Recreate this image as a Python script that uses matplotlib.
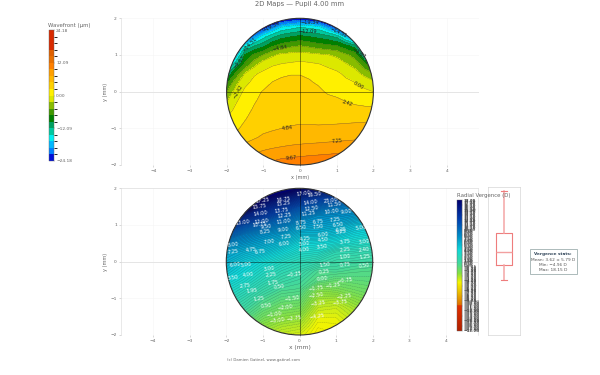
import numpy as np
import matplotlib
matplotlib.use("Agg")
import matplotlib.pyplot as plt
from matplotlib.colors import ListedColormap, BoundaryNorm, LinearSegmentedColormap, Normalize
from matplotlib.patches import Circle, Rectangle
from matplotlib.colorbar import ColorbarBase

W, H = 600, 375
wave_x = [-2, -1.75, -1.5, -1.25, -1, -0.75, -0.5, -0.25, 0, 0.25, 0.5, 0.75, 1, 1.25, 1.5, 1.75, 2]
verg_x = [-2, -1.5, -1, -0.5, 0, 0.5, 1, 1.5, 2]
grid_y = [2, 1.75, 1.5, 1.25, 1, 0.75, 0.5, 0.25, 0, -0.25, -0.5, -0.75, -1, -1.25, -1.5, -1.75, -2]

# columns by x, rows by y
wave_m200 = [-70, -60, -50, -40, -30, -20, -13, -8, -5, -2.6, -1, 0.2, 1, 2, 3.5, 5.5, 8]
wave_m175 = [-56, -46, -37, -27, -19, -13, -7, -3.2, -1.4, -0.3, 0.5, 1.3, 2, 3, 4.4, 6.2, 8.5]
wave_m150 = [-45, -35, -27, -15.3, -9.5, -6.9, -2.42, -0.6, 0.5, 1.1, 1.7, 2.3, 3, 3.9, 5.4, 7, 9]
wave_m125 = [-38, -29, -20, -12.4, -6.8, -3.5, -0.3, 0.6, 1.7, 2.2, 2.7, 3.2, 3.8, 4.6, 6, 7.6, 9.5]
wave_m100 = [-32, -24, -15.5, -10.4, -4.84, -1, 0.4, 1.5, 2.6, 3, 3.4, 3.8, 4.3, 5.2, 6.6, 8.2, 10]
wave_m075 = [-28.5, -20, -12.7, -7.7, -2.9, -0.4, 1.5, 2.5, 2.85, 3.2, 3.6, 4, 4.55, 5.6, 6.95, 8.65, 10.5]
wave_m050 = [-26, -16.6, -10.7, -6.1, -1.7, 0.1, 2.1, 2.8, 3, 3.4, 3.8, 4.3, 4.84, 6, 7.25, 9.1, 11]
wave_m025 = [-24.5, -15.5, -9.8, -5.4, -1.5, 0.35, 2.3, 2.9, 3.1, 3.5, 3.9, 4.4, 5, 6.2, 7.45, 9.3, 11.2]
wave_p000 = [-24, -14.5, -9.1, -4.84, -1.3, 0.6, 2.3, 2.9, 3.15, 3.6, 4, 4.5, 5.1, 6.3, 7.6, 9.5, 11.5]
wave_p025 = [-24.5, -15, -9.7, -5.4, -1.6, 0.4, 2.1, 2.6, 3, 3.4, 3.8, 4.35, 5.2, 6.35, 7.75, 9.7, 11.6]
wave_p050 = [-26, -15.8, -10.4, -6.2, -1.9, 0.1, 1.1, 2.2, 2.8, 3.2, 3.6, 4.2, 5.2, 6.4, 7.85, 9.85, 11.7]
wave_p075 = [-32, -19, -11.3, -6.6, -2.3, -0.4, 0.75, 1.55, 2.2, 2.95, 3.4, 4.25, 5.25, 6.5, 8, 10, 11.85]
wave_p100 = [-40, -24, -12.8, -7.25, -2.9, -1.1, 0.4, 1.1, 1.9, 2.75, 3.2, 4.3, 5.3, 6.6, 8.1, 10.2, 12]
wave_p125 = [-42, -29, -18, -9, -4.4, -2.2, -0.5, 0.5, 1.45, 2.35, 3, 4.35, 5.4, 6.7, 8.3, 10.5, 12.5]
wave_p150 = [-45, -35, -25, -11, -6, -3.4, -1.5, 0, 1, 2.1, 2.85, 4.4, 5.5, 6.8, 8.5, 10.8, 13]
wave_p175 = [-55, -47, -37, -25, -14, -6.5, -3.2, -0.9, 0.5, 1.9, 2.8, 4.45, 5.6, 6.9, 8.7, 11, 13.5]
wave_p200 = [-70, -60, -50, -40, -25, -10, -5, -1.8, 0, 1.6, 2.8, 4.5, 5.7, 7, 8.9, 11.2, 14]

verg_m20 = [36, 30, 25, 20, 14, 11, 8.5, 7, 6.2, 5.4, 4.5, 3.5, 2.7, 1.8, 1, 0.2, -0.6]
verg_m15 = [32, 25, 20, 15, 11.5, 9.3, 7.6, 6.2, 5, 4.2, 3.4, 2.5, 1.6, 0.8, 0, -0.8, -1.6]
verg_m10 = [26, 18.5, 15.5, 13, 10.2, 8.1, 6.8, 5.5, 3.9, 3, 2.2, 1.3, 0.4, -0.4, -1.3, -2.2, -3]
verg_m05 = [20, 16.5, 13.5, 11, 9.2, 7.3, 5.8, 4.3, 2.9, 2, 1.2, 0.4, -0.4, -1.2, -2, -2.9, -3.7]
verg_p00 = [18, 14.5, 11.5, 9.5, 7.6, 6, 4.4, 3.2, 2.2, 1.4, 0.7, 0.2, -0.6, -1.4, -2.3, -3.2, -4]
verg_p05 = [17, 13, 10.5, 8.2, 7.2, 6, 4.2, 3, 1.7, 0.3, -0.2, -1.8, -2.7, -3.5, -4.2, -4.7, -4.96]
verg_p10 = [16, 12, 9.5, 8, 6.8, 5.4, 3.8, 1.9, 1.1, 0.4, -0.7, -1.6, -2.8, -3.7, -4.2, -4.6, -4.8]
verg_p15 = [14, 11, 9, 7.5, 5.8, 4.5, 3.2, 1.8, 0.9, 0.1, -0.5, -1.2, -2, -2.8, -3.4, -3.9, -4.2]
verg_p20 = [13, 10, 8.5, 7, 5.2, 4, 2.8, 1.5, 0.7, 0, -0.4, -0.9, -1.5, -2.1, -2.7, -3.2, -3.6]

wave_step = 2.418
wave_colors = ['#0010d8', '#0080ff', '#00b8ff', '#00f0f0', '#00c8a0', '#00a060', '#008000',
               '#409800', '#88bc00', '#dce800', '#fff000', '#ffd000', '#ffb800', '#ffa000',
               '#ff8000', '#e87000', '#e06000', '#d82a00', '#d82a00', '#d82a00']
wave_ticks = [-24.18, -12.09, 0.0, 12.09, 24.18]
wave_labels = ['\u221224.18', '\u221212.09', '0.00', '12.09', '24.18']
wave_text = ['\u221219.34', '\u221212.09', '\u22124.84', '\u22129.67', '\u221214.51', '\u221219.34', '\u221214.51',
             '\u22129.67', '\u22122.42', '0.00', '2.42', '4.84', '7.25', '9.67']
wave_text_x = [0.27, 0.2, -0.55, -1.66, -1.36, -0.77, 1.05, 1.6, -1.68, 1.6, 1.29, -0.35, 1.02, -0.23]
wave_text_y = [1.88, 1.63, 1.18, 0.8, 1.3, 1.77, 1.6, 1.05, 0.0, 0.18, -0.32, -0.99, -1.35, -1.81]
wave_text_r = [0, 0, 10, 50, 45, 25, -25, -35, 60, -30, -18, 5, 5, 5]

verg_stops = [0, .15, .28, .38, .48, .56, .63, .72, .8, .81, 1]
verg_cols = ['#000070', '#0040b0', '#0090c8', '#10d8d8', '#40d8a0', '#88e040', '#f4f400',
             '#e8b000', '#e07000', '#e03000', '#b02000']
verg_vmax = 18.0
verg_text = ['17.00', '16.50', '16.75', '17.25', '15.75', '15.25', '14.00', '12.50', '11.25', '14.00', '13.75',
             '12.25', '11.00', '10.00', '9.00', '23.00', '11.50', '13.00', '12.00', '10.75', '9.50', '8.25', '9.00',
             '7.25', '6.00', '7.00', '8.00', '7.25', '6.75', '4.75', '8.75', '6.50', '6.75', '7.50', '7.25', '6.50',
             '6.25', '5.25', '5.00', '6.00', '4.50', '4.25', '3.00', '3.75', '3.00', '3.50', '4.00', '2.25', '2.40',
             '1.00', '1.25', '1.50', '0.75', '0.50', '0.25', '0.00', '\u22120.75', '\u22121.25', '\u22121.75',
             '\u22122.50', '\u22122.25', '\u22123.25', '\u22123.75', '\u22124.25', '5.00', '6.00', '4.00', '3.00',
             '2.25', '1.75', '0.50', '3.50', '2.75', '1.95', '1.25', '0.50', '\u22120.25', '\u22121.00', '\u22121.50',
             '\u22122.00', '\u22122.75', '\u22123.00']
verg_text_x = [0.1, 0.4, -0.45, -1.02, -1.09, -0.43, 0.3, 0.32, 0.25, -1.07, -0.5, -0.4, -0.43, 0.87, 1.27, 0.85, 0.95,
               -1.55, -1.04, -1.1, -0.91, -0.93, -0.45, -0.36, -0.41, -0.84, -1.8, -1.82, -1.09, -1.32, 0.03, 0.05,
               0.5, 0.5, 0.98, 1.05, 1.14, 1.14, 1.68, 0.64, 0.64, 0.14, 0.14, 1.23, 1.77, 0.62, 0.14, 1.23, 1.77,
               1.23, 1.77, 0.68, 1.25, 1.77, 0.68, 0.63, 1.25, 0.9, 0.44, 0.45, 1.2, 0.5, 1.1, 0.48, -1.45, -1.77,
               -1.41, -0.84, -0.79, -0.73, -0.56, -1.82, -1.5, -1.3, -1.1, -0.9, -0.15, -0.7, -0.2, -0.4, -0.15, -0.6]
verg_text_y = [1.85, 1.82, 1.69, 1.67, 1.5, 1.58, 1.6, 1.46, 1.3, 1.31, 1.4, 1.27, 1.1, 1.38, 1.35, 1.67, 1.55, 1.07,
               1.1, 1.0, 0.96, 0.82, 0.87, 0.67, 0.5, 0.55, 0.46, 0.26, 0.28, 0.33, 1.05, 0.92, 1.08, 0.96, 1.15, 1.0,
               0.87, 0.82, 0.92, 0.74, 0.6, 0.62, 0.5, 0.53, 0.55, 0.42, 0.33, 0.33, 0.33, 0.13, 0.13, -0.08, -0.08,
               -0.1, -0.28, -0.46, -0.52, -0.65, -0.74, -0.93, -0.96, -1.15, -1.1, -1.5, -0.08, -0.08, -0.35, -0.2,
               -0.37, -0.58, -0.69, -0.45, -0.65, -0.8, -1.0, -1.2, -0.35, -1.45, -1.0, -1.25, -1.55, -1.6]

box_whislo, box_q1, box_med, box_q3, box_whishi = -4.96, -1.1, 2.27, 7.2, 18.15
stats_lines = ['Vergence stats:', 'Mean: 3.62 \u00b1 5.79 D', 'Min: \u22124.96 D', 'Max: 18.15 D']

plt.rcParams['font.family'] = 'DejaVu Sans'
GRAY = '#666666'
fig = plt.figure(figsize=(6, 3.75), dpi=100)


def add_ax(l, t, r, b):
    return fig.add_axes([l / W, 1 - b / H, (r - l) / W, (b - t) / H])


def style_map(ax, frame):
    ax.set_xlim(-4.877, 4.877)
    ax.set_ylim(-2, 2)
    ax.set_xticks(range(-4, 5))
    ax.set_yticks(range(-2, 3))
    ax.tick_params(length=1.5, width=0.4, color='#bbbbbb', labelsize=3.2, labelcolor=GRAY, pad=1.5)
    ax.grid(color='#f5f5f5', lw=0.4)
    ax.set_axisbelow(True)
    for s in ax.spines.values():
        s.set_linewidth(0.4)
        s.set_color('#d8d8d8')
    ax.spines['bottom'].set_visible(False)
    if not frame:
        ax.spines['top'].set_visible(False)
        ax.spines['right'].set_visible(False)
    ax.axhline(0, color='#e2e2e2', lw=0.6, zorder=1)
    ax.axvline(0, color='#e2e2e2', lw=0.6, zorder=1)
    ax.set_ylabel('y (mm)', fontsize=3.6, color=GRAY, labelpad=1.5)


def finish_circle(ax):
    ax.plot([-2, 2], [0, 0], color='k', alpha=0.45, lw=0.7, zorder=4, clip_on=False)
    ax.plot([0, 0], [-2, 2], color='k', alpha=0.45, lw=0.7, zorder=4, clip_on=False)
    ax.add_patch(Circle((0, 0), 2, fill=False, ec='#333333', lw=0.8, zorder=5, clip_on=False))


# ---- wavefront
ax1 = add_ax(121, 18.3, 479, 165)
style_map(ax1, False)
ax1.set_xlabel('x (mm)', fontsize=3.6, color=GRAY, labelpad=1)
wave = np.array([wave_m200, wave_m175, wave_m150, wave_m125, wave_m100, wave_m075, wave_m050, wave_m025, wave_p000,
                 wave_p025, wave_p050, wave_p075, wave_p100, wave_p125, wave_p150, wave_p175, wave_p200]).T
wave_levels = np.arange(-10, 11) * wave_step
wcmap = ListedColormap(wave_colors)
wcmap.set_under('#0010d8')
wnorm = BoundaryNorm(wave_levels, wcmap.N)
clip1 = Circle((0, 0), 2, transform=ax1.transData)
cf1 = ax1.contourf(wave_x, grid_y, wave, levels=wave_levels, cmap=wcmap, norm=wnorm, extend='both', zorder=2)
cl1 = ax1.contour(wave_x, grid_y, wave, levels=wave_levels, colors='#444444', linewidths=0.3, alpha=0.7, zorder=3)
cf1.set_clip_path(clip1)
cl1.set_clip_path(clip1)
finish_circle(ax1)
for s, x, y, r in zip(wave_text, wave_text_x, wave_text_y, wave_text_r):
    ax1.text(x, y, s, fontsize=3.6, color='#222222', rotation=r, ha='center', va='center', zorder=6)

cax1 = add_ax(48.7, 30, 54, 161)
cb1 = ColorbarBase(cax1, cmap=wcmap, norm=wnorm, boundaries=wave_levels, spacing='proportional',
                   ticks=wave_ticks, drawedges=False)
cb1.ax.set_yticklabels(wave_labels)
cb1.ax.tick_params(length=1, width=0.3, color='#888888', labelsize=3.2, labelcolor=GRAY, pad=0.5)
cb1.outline.set_linewidth(0.3)
cb1.outline.set_edgecolor('#666666')
fig.text(48.5 / W, 1 - 25 / H, 'Wavefront (\u00b5m)', fontsize=3.9, color=GRAY, ha='left', va='center')

# ---- vergence
ax2 = add_ax(121, 188.3, 478, 335)
style_map(ax2, True)
ax2.set_xlabel('x (mm)', fontsize=4.3, color=GRAY, labelpad=1)
verg = np.array([verg_m20, verg_m15, verg_m10, verg_m05, verg_p00, verg_p05, verg_p10, verg_p15, verg_p20]).T
verg_levels = np.arange(-verg_vmax, verg_vmax + 0.25, 0.25)
vcmap = LinearSegmentedColormap.from_list('verg', [(1 - s, c) for s, c in zip(verg_stops[::-1], verg_cols[::-1])],
                                          N=256)
vcmap.set_over('#000070')
vnorm = Normalize(-verg_vmax, verg_vmax)
clip2 = Circle((0, 0), 2, transform=ax2.transData)
cf2 = ax2.contourf(verg_x, grid_y, verg, levels=verg_levels, cmap=vcmap, norm=vnorm, extend='max', zorder=2)
cf2.set_clip_path(clip2)
cl2 = ax2.contour(verg_x, grid_y, verg, levels=verg_levels, colors='#222222', linewidths=0.25, alpha=0.4, zorder=3)
cl2.set_clip_path(clip2)
finish_circle(ax2)
for s, x, y in zip(verg_text, verg_text_x, verg_text_y):
    ax2.text(x, y, s, fontsize=3.7, color='white', rotation=8, ha='center', va='center', zorder=6)

cax2 = add_ax(457, 200, 462, 331)
cb2 = ColorbarBase(cax2, cmap=vcmap, norm=vnorm, ticks=[])
cb2.outline.set_linewidth(0.3)
cb2.outline.set_edgecolor('#666666')
cax2.set_yticks(verg_levels)
cax2.set_yticklabels([f'{v:.2f}'.replace('-', '\u2212') for v in verg_levels])
cax2.tick_params(length=0.8, width=0.2, color='#888888', labelsize=3.2, labelcolor='#444444', pad=0.4)
fig.text(457 / W, 1 - 196 / H, 'Radial Vergence (D)', fontsize=3.9, color=GRAY, ha='left', va='center', zorder=10)

# ---- box
ax3 = add_ax(488, 187, 520, 335)
for s in ax3.spines.values():
    s.set_linewidth(0.4)
    s.set_color('#cccccc')
ax3.bxp([{'med': box_med, 'q1': box_q1, 'q3': box_q3, 'whislo': box_whislo, 'whishi': box_whishi, 'fliers': []}],
        positions=[0], widths=0.94, showfliers=False,
        boxprops={'color': '#ee7d7d', 'lw': 0.8},
        medianprops={'color': '#f2a0a0', 'lw': 1.0},
        whiskerprops={'color': '#f4a6a6', 'lw': 1.1},
        capprops={'color': '#ee7d7d', 'lw': 0.8}, capwidths=0.32)
ax3.set_xticks([])
ax3.set_yticks([])
ax3.set_xlim(-1, 1)
ax3.set_ylim(-19.2, 19.1)

# ---- stats
fig.add_artist(Rectangle((529.5 / W, 1 - 274 / H), 47.5 / W, 25 / H, transform=fig.transFigure,
                         fc='white', ec='#9fb0b0', lw=0.6))
for i, line in enumerate(stats_lines):
    fig.text(553 / W, 1 - (254.5 + i * 5.3) / H, line, fontsize=3.1, color='#33475b' if i == 0 else '#555555',
             fontweight='bold' if i == 0 else 'normal', ha='center', va='center')

fig.text(0.5, 1 - 4 / H, '2D Maps \u2014 Pupil 4.00 mm', fontsize=4.9, color=GRAY, ha='center', va='center')
fig.text(263.5 / W, 1 - 360 / H, '(c) Damien Gatinel, www.gatinel.com', fontsize=2.8, color=GRAY,
         ha='center', va='center')
fig.savefig('out.png', dpi=100)
